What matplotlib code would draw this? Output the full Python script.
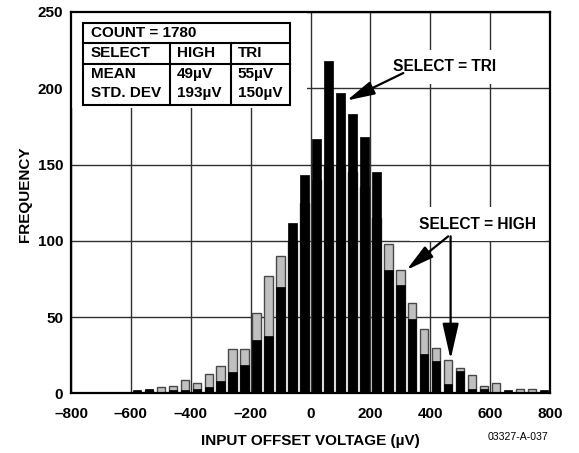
import matplotlib
matplotlib.use("Agg")
import matplotlib.pyplot as plt
from matplotlib.patches import Rectangle

plt.rcParams['font.family'] = ['Liberation Sans', 'DejaVu Sans']

# ---- data ----
bin_centers = [-580, -540, -500, -460, -420, -380, -340, -300, -260, -220,
               -180, -140, -100, -60, -20, 20, 60, 100, 140, 180,
               220, 260, 300, 340, 380, 420, 460, 500, 540, 580,
               620, 660, 700, 740, 780]
freq_tri = [2, 3, 1, 2, 2, 3, 4, 8, 14, 19,
            35, 38, 70, 112, 143, 167, 218, 197, 183, 168,
            145, 81, 71, 49, 26, 21, 6, 15, 3, 3,
            1, 2, 1, 1, 2]
freq_high = [1, 2, 4, 5, 9, 7, 13, 18, 29, 29,
             53, 77, 90, 100, 125, 140, 150, 150, 145, 135,
             115, 98, 81, 59, 42, 30, 22, 17, 12, 5,
             7, 1, 3, 3, 1]
x_ticks = [-800, -600, -400, -200, 0, 200, 400, 600, 800]
x_tick_labels = ["\u2013800", "\u2013600", "\u2013400", "\u2013200", "0", "200", "400", "600", "800"]
y_ticks = [0, 50, 100, 150, 200, 250]
y_tick_labels = ["0", "50", "100", "150", "200", "250"]

table_rows = [["SELECT", "HIGH", "TRI"],
              ["MEAN", "49\u00b5V", "55\u00b5V"],
              ["STD. DEV", "193\u00b5V", "150\u00b5V"]]
count_label = "COUNT = 1780"

fig = plt.figure(figsize=(5.79, 4.53), dpi=100)
ax = fig.add_axes([0.12263, 0.13135, 0.82729, 0.84216])

bar_w = 28
ax.bar(bin_centers, freq_high, width=bar_w, color='#c0c0c0', edgecolor='#484848',
       linewidth=1.0, zorder=2)
ax.bar(bin_centers, freq_tri, width=bar_w, color='black', edgecolor='black',
       linewidth=0.5, zorder=3)

ax.set_xlim(-800, 800)
ax.set_ylim(0, 250)
ax.set_xticks(x_ticks)
ax.set_xticklabels(x_tick_labels, fontsize=11, fontweight='bold')
ax.set_yticks(y_ticks)
ax.set_yticklabels(y_tick_labels, fontsize=11, fontweight='bold')
ax.tick_params(axis='x', length=0, pad=10)
ax.tick_params(axis='y', length=0, pad=5.5)
ax.grid(True, color='#303030', linewidth=1.0, zorder=0.5)
ax.set_axisbelow(True)
for s in ax.spines.values():
    s.set_linewidth(1.6)
    s.set_zorder(6)

ax.set_xlabel("INPUT OFFSET VOLTAGE (\u00b5V)", fontsize=11, fontweight='bold', labelpad=9)
fig.text(25/579, 1 - 194/453, "FREQUENCY", rotation=90, fontsize=11,
         fontweight='bold', ha='center', va='center')
fig.text(548/579, 1 - 437/453, "03327-A-037", fontsize=7.6, ha='right', va='center')

# white area behind the table
ax.add_patch(Rectangle((0, 0.748), 0.4927, 0.252, transform=ax.transAxes,
                       facecolor='white', edgecolor='none', zorder=1))

# table
tx0, tx1, tx2, tx3 = 0.0257, 0.2067, 0.334, 0.4572
ty0, ty1, ty2, ty3 = 0.972, 0.9195, 0.8645, 0.756
ax.add_patch(Rectangle((tx0, ty3), tx3 - tx0, ty0 - ty3, transform=ax.transAxes,
                       facecolor='white', edgecolor='black', linewidth=1.5, zorder=4))
for yy in (ty1, ty2):
    ax.plot([tx0, tx3], [yy, yy], transform=ax.transAxes, color='black', lw=1.5, zorder=5)
for xx in (tx1, tx2):
    ax.plot([xx, xx], [ty3, ty1], transform=ax.transAxes, color='black', lw=1.5, zorder=5)

col_x = [0.0411, 0.2206, 0.348]
ax.text(col_x[0], 0.944, count_label, transform=ax.transAxes, fontsize=11,
        fontweight='bold', ha='left', va='center', zorder=6)
row_y = [0.8917, 0.8375, 0.787]
for r, row in enumerate(table_rows):
    for c, txt in enumerate(row):
        ax.text(col_x[c], row_y[r], txt, transform=ax.transAxes, fontsize=11,
                fontweight='bold', ha='left', va='center', zorder=6)

# annotations
box = dict(boxstyle='square,pad=0.6', facecolor='white', edgecolor='none')
ax.text(448.7, 214, "SELECT = TRI", fontsize=11.2, fontweight='bold', ha='center',
        va='center', bbox=box, zorder=4)
ax.text(559, 111, "SELECT = HIGH", fontsize=11.2, fontweight='bold', ha='center',
        va='center', bbox=box, zorder=4)

arrow = dict(arrowstyle='-|>,head_length=1.7,head_width=0.42', color='black', lw=1.6,
             mutation_scale=10, shrinkA=0, shrinkB=0)
ax.annotate('', xy=(121, 192), xytext=(310, 210), arrowprops=arrow, zorder=5)
ax.annotate('', xy=(321, 81), xytext=(460, 103), arrowprops=arrow, zorder=5)
arrow2 = dict(arrowstyle='-|>,head_length=2.2,head_width=0.5', color='black', lw=1.6,
              mutation_scale=10, shrinkA=0, shrinkB=0)
ax.annotate('', xy=(468, 22.4), xytext=(468, 103), arrowprops=arrow2, zorder=5)

fig.savefig("out.png", dpi=100)
